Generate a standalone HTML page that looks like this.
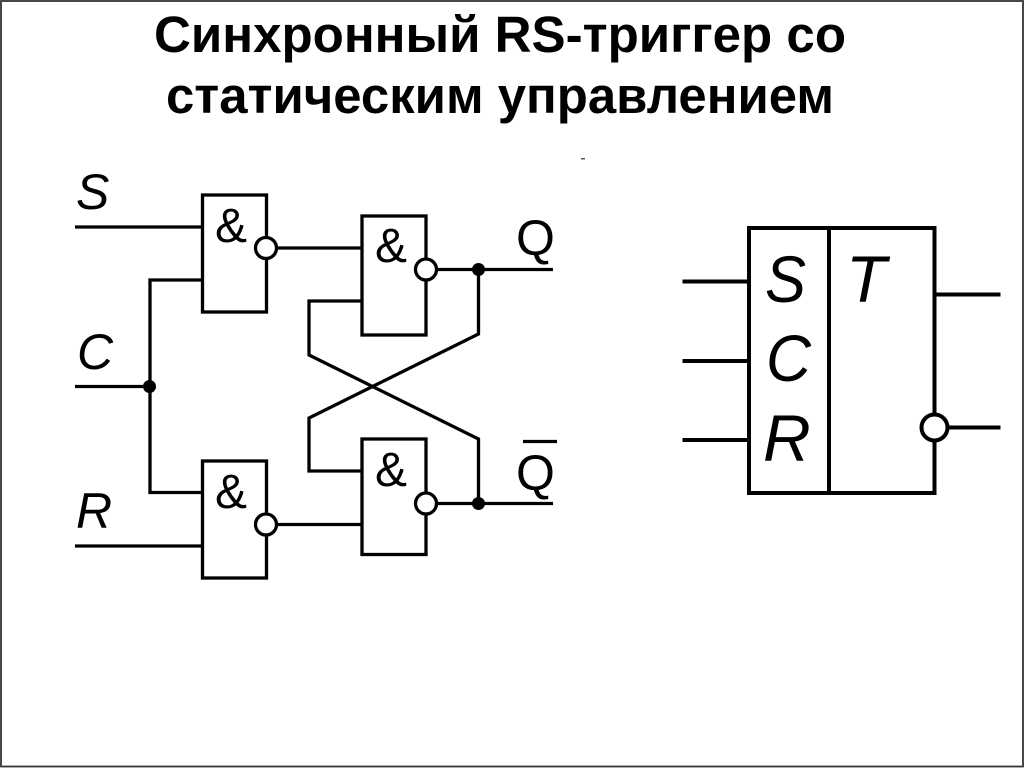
<!DOCTYPE html>
<html>
<head>
<meta charset="utf-8">
<style>
html,body{margin:0;padding:0;background:#fff;}
body{width:1024px;height:768px;overflow:hidden;}
svg{display:block;}
text{font-family:"Liberation Sans",sans-serif;fill:#000;}
</style>
</head>
<body>
<svg width="1024" height="768" viewBox="0 0 1024 768" xmlns="http://www.w3.org/2000/svg">
<rect x="0" y="0" width="1024" height="768" fill="#fff"/>
<rect x="1" y="1" width="1022" height="765.5" fill="none" stroke="#333" stroke-width="1.8"/>
<text x="500" y="52" font-size="51" font-weight="bold" text-anchor="middle" textLength="692" lengthAdjust="spacingAndGlyphs">Синхронный RS-триггер со</text>
<text x="500" y="113" font-size="51" font-weight="bold" text-anchor="middle" textLength="668" lengthAdjust="spacingAndGlyphs">статическим управлением</text>
<rect x="581" y="158" width="4" height="1.5" fill="#555"/>

<g fill="none" stroke="#000" stroke-width="3.3">
<rect x="202.5" y="195" width="64" height="117"/>
<rect x="362" y="216" width="64" height="119"/>
<rect x="362" y="439" width="64" height="115.5"/>
<rect x="202.5" y="461" width="64" height="117"/>
<path d="M75 227H202"/>
<path d="M75 386.5H150"/>
<path d="M202 280H150V492.5H202"/>
<path d="M75 546H202"/>
<path d="M277 248H362"/>
<path d="M277 524.5H362"/>
<path d="M436 269.5H553"/>
<path d="M436 503.5H553"/>
<path d="M478.5 269.5V334L309 418V471H362"/>
<path d="M362 301H309V355L478.5 439V503.5"/>
<path d="M523 441.5H557"/>
</g>
<g fill="#fff" stroke="#000" stroke-width="3.3">
<circle cx="266" cy="248" r="10.5"/>
<circle cx="426" cy="269.5" r="10.5"/>
<circle cx="426" cy="503.5" r="10.5"/>
<circle cx="266" cy="524.5" r="10.5"/>
</g>
<g fill="#000">
<circle cx="149.5" cy="386.5" r="6.5"/>
<circle cx="478.5" cy="269.5" r="6.5"/>
<circle cx="478.5" cy="503.5" r="6.5"/>
</g>
<g font-size="48">
<text x="215" y="242">&amp;</text>
<text x="375" y="262">&amp;</text>
<text x="375" y="486">&amp;</text>
<text x="215" y="508">&amp;</text>
</g>
<g font-size="50" font-style="italic">
<text x="76" y="209">S</text>
<text x="77" y="369">C</text>
<text x="76" y="528">R</text>
</g>
<g font-size="50">
<text x="516" y="255">Q</text>
<text x="516" y="490">Q</text>
</g>

<g fill="none" stroke="#000" stroke-width="4">
<rect x="749" y="228" width="185.5" height="265"/>
<path d="M829 228V493"/>
<path d="M682.5 281.5H749"/>
<path d="M682.5 361H749"/>
<path d="M682.5 440H749"/>
<path d="M934 294.5H1000.5"/>
<path d="M945 427.5H1000.5"/>
</g>
<circle cx="934.5" cy="427.5" r="13" fill="#fff" stroke="#000" stroke-width="4"/>
<g font-size="66" font-style="italic">
<text x="765" y="302" textLength="41" lengthAdjust="spacingAndGlyphs">S</text>
<text x="766" y="381" textLength="45" lengthAdjust="spacingAndGlyphs">C</text>
<text x="763" y="461">R</text>
<text x="846" y="302">T</text>
</g>
</svg>
</body>
</html>
